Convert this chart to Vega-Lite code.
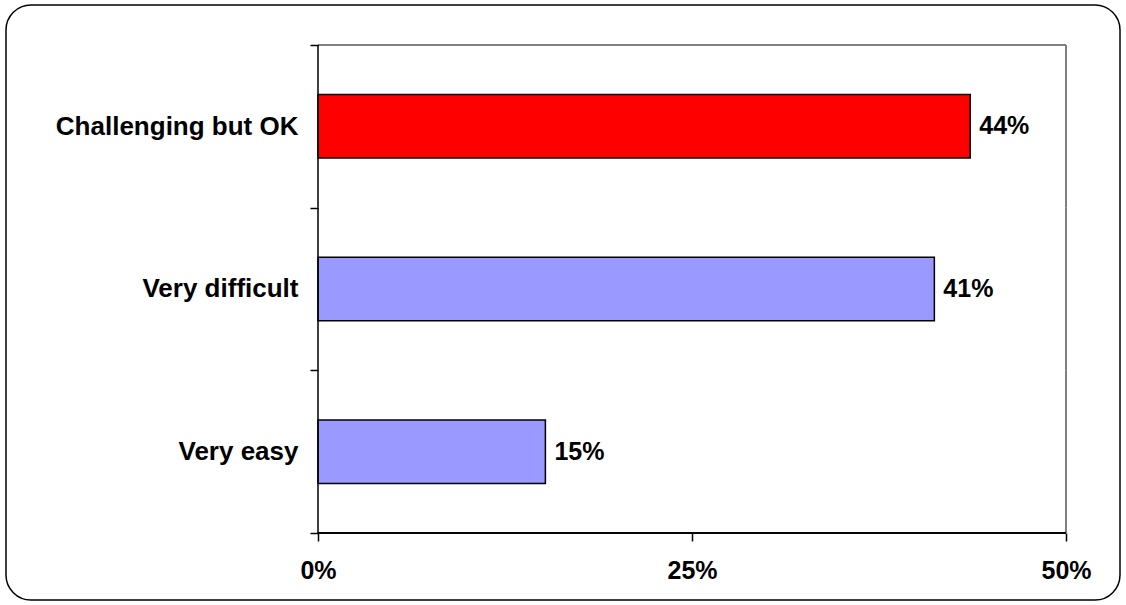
{
  "$schema": "https://vega.github.io/schema/vega-lite/v6.json",
  "width": 1114,
  "height": 595,
  "autosize": {"type": "none"},
  "padding": {"left": 6, "top": 5, "right": 6, "bottom": 5},
  "background": "white",
  "config": {
    "view": {"stroke": "black", "strokeWidth": 1.5, "cornerRadius": 25, "fill": "white"},
    "font": "Liberation Sans",
    "axis": {"labelFont": "Liberation Sans", "labelFontWeight": "bold", "labelFontSize": 25, "labelColor": "black", "labelLimit": 0}
  },
  "data": {
    "values": [
      {"cat": "Challenging but OK", "value": 0.436, "highlight": "yes"},
      {"cat": "Very difficult", "value": 0.412, "highlight": "no"},
      {"cat": "Very easy", "value": 0.152, "highlight": "no"}
    ]
  },
  "encoding": {
    "y": {
      "field": "cat",
      "type": "nominal",
      "sort": null,
      "scale": {"domain": ["Challenging but OK", "Very difficult", "Very easy"], "paddingInner": 0, "paddingOuter": 0.3289, "align": 0.3738},
      "axis": {"title": null, "orient": "left", "offset": -312, "domain": false, "tickBand": "extent", "tickSize": 8, "tickColor": "black", "tickWidth": 1.5, "labelPadding": 12, "labelFontSize": 26, "grid": false}
    }
  },
  "layer": [
    {
      "mark": {"type": "rect", "fill": null, "stroke": "#808080", "strokeWidth": 2},
      "encoding": {
        "x": {"datum": 0.5, "type": "quantitative", "scale": {"domain": [-0.208556, 0.536096], "nice": false, "zero": false},
          "axis": {"title": null, "values": [0, 0.25, 0.5], "format": ".0%", "orient": "bottom", "offset": -67, "domain": false, "grid": false, "tickSize": 8, "tickColor": "black", "tickWidth": 1.5, "labelPadding": 17}},
        "x2": {"datum": 0.5}
      }
    },
    {
      "mark": {"type": "rule", "stroke": "#808080", "strokeWidth": 2},
      "encoding": {
        "x": {"datum": 0, "type": "quantitative"},
        "x2": {"datum": 0.5},
        "y": {"datum": "Challenging but OK", "type": "nominal", "bandPosition": 0}
      }
    },
    {
      "mark": {"type": "bar", "stroke": "black", "strokeWidth": 1.5, "height": {"band": 0.39}},
      "encoding": {
        "x": {"field": "value", "type": "quantitative"},
        "x2": {"datum": 0},
        "color": {"field": "highlight", "type": "nominal", "scale": {"domain": ["yes", "no"], "range": ["#FF0000", "#9999FF"]}, "legend": null}
      }
    },
    {
      "mark": {"type": "rect", "fill": null, "stroke": "black", "strokeWidth": 1.5},
      "encoding": {
        "x": {"datum": 0, "type": "quantitative"},
        "x2": {"datum": 0}
      }
    },
    {
      "mark": {"type": "rule", "stroke": "black", "strokeWidth": 1.5},
      "encoding": {
        "x": {"datum": 0, "type": "quantitative"},
        "x2": {"datum": 0.5},
        "y": {"datum": "Very easy", "type": "nominal", "bandPosition": 1}
      }
    },
    {
      "mark": {"type": "text", "align": "left", "baseline": "middle", "dx": 9, "fontSize": 25, "fontWeight": "bold", "font": "Liberation Sans", "color": "black"},
      "encoding": {
        "x": {"field": "value", "type": "quantitative"},
        "text": {"field": "value", "type": "quantitative", "format": ".0%"}
      }
    }
  ]
}
